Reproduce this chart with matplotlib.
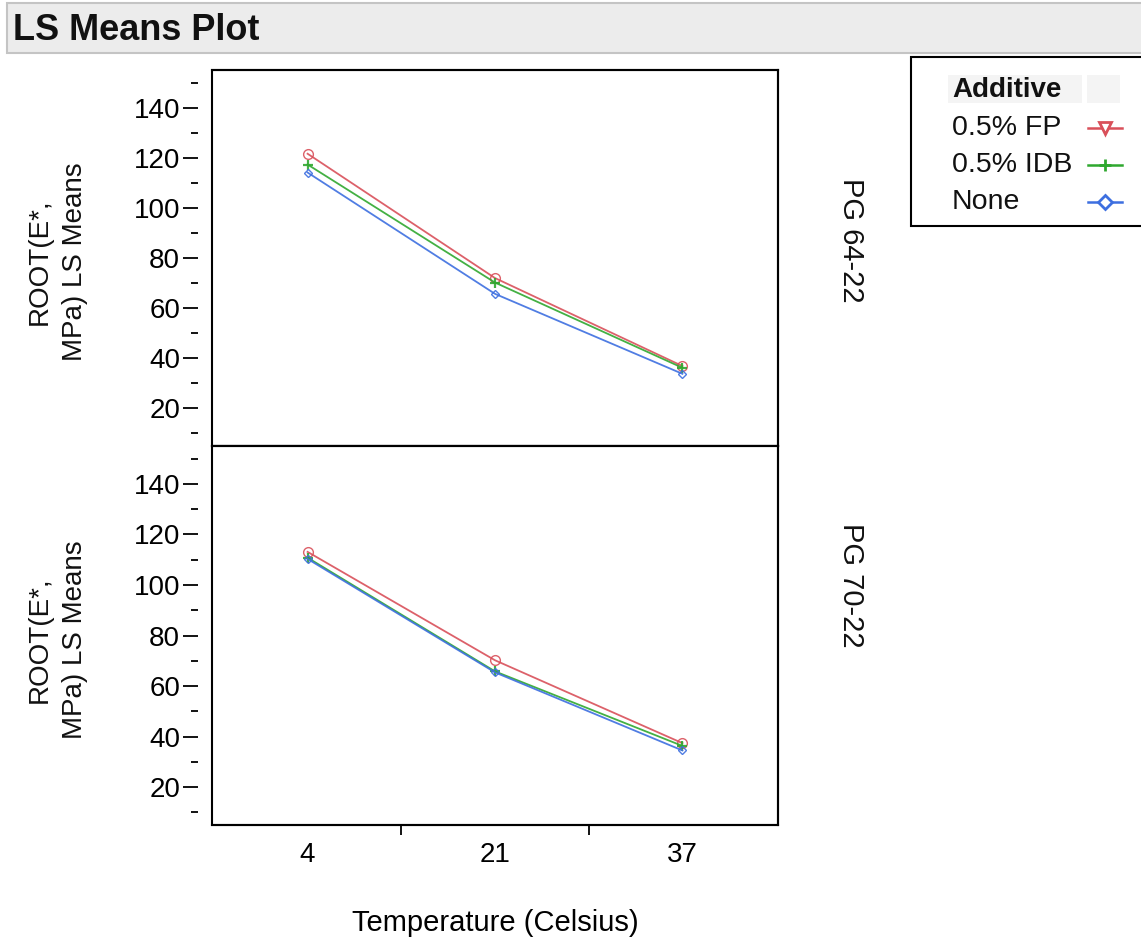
import matplotlib
matplotlib.use('Agg')
import matplotlib.pyplot as plt
from matplotlib.patches import Rectangle
from matplotlib.lines import Line2D
from matplotlib.ticker import MultipleLocator, FixedLocator

plt.rcParams['font.family'] = ['Liberation Sans', 'DejaVu Sans']
plt.rcParams['text.color'] = '#111111'

# Datos
temperaturas = ['4', '21', '37']
aditivos = ['0.5% FP', '0.5% IDB', 'None']
paneles = ['PG 64-22', 'PG 70-22']

pg64_fp = [121.6, 72.0, 36.9]
pg64_idb = [117.3, 70.2, 36.2]
pg64_none = [114.1, 65.7, 33.8]

pg70_fp = [113.1, 70.2, 37.4]
pg70_idb = [110.8, 65.8, 36.3]
pg70_none = [110.3, 65.4, 34.5]

colores = ['#d9505a', '#2fa82f', '#3d6fe0']
marcadores = ['o', '+', 'D']
marcadores_leyenda = ['v', '+', 'D']

W, H = 1141, 938
fig = plt.figure(figsize=(W / 100, H / 100), dpi=100)

# Función para pasar píxeles a coordenadas de figura
def fx(px):
    return px / W

def fy(py):
    return 1 - py / H

# Barra de título estilo JMP
fig.patches.append(Rectangle((fx(7), fy(53)), 1.0, 50 / H, transform=fig.transFigure,
                             facecolor='#ececec', edgecolor='#c4c4c4', lw=1.5))
fig.text(fx(13), fy(30), 'LS Means Plot', fontsize=26, fontweight='bold',
         va='center', ha='left')

ax1 = fig.add_axes([fx(212), fy(446), 566 / W, 376 / H])
ax2 = fig.add_axes([fx(212), fy(825), 566 / W, 379 / H])

datos = [[pg64_fp, pg64_idb, pg64_none], [pg70_fp, pg70_idb, pg70_none]]
x = list(range(len(temperaturas)))

for ax, serie in zip([ax1, ax2], datos):
    for vals, c, m, nombre in zip(serie, colores, marcadores, aditivos):
        ms = 7 if m != 'D' else 4
        ax.plot(x, vals, color=c, lw=1.3, marker=m, ms=ms, mfc='none',
                mec=c, mew=1.6 if m == '+' else 1.0, label=nombre, alpha=0.9)
    ax.set_xlim(-0.51, 2.51)
    ax.set_ylim(5, 155)
    ax.set_yticks([20, 40, 60, 80, 100, 120, 140])
    ax.yaxis.set_minor_locator(MultipleLocator(10))
    ax.tick_params(axis='y', which='major', length=11, width=1.3, labelsize=20, pad=2)
    ax.tick_params(axis='y', which='minor', length=5, width=1.3)
    # marcas separadas del eje, como en JMP
    ax.spines['left'].set_position(('outward', 10))
    ax.spines['left'].set_color('none')
    ax.add_patch(Rectangle((0, 0), 1, 1, transform=ax.transAxes, fill=False,
                           edgecolor='black', lw=1.5, clip_on=False))
    for s in ['top', 'right', 'bottom']:
        ax.spines[s].set_linewidth(1.5)

# Etiquetas del eje Y y de cada panel
for yc in [262, 640]:
    fig.text(fx(57), fy(yc), 'ROOT(E*,\nMPa) LS Means', rotation=90, fontsize=20,
             ha='center', va='center', linespacing=1.45, multialignment='center')
fig.text(fx(851), fy(240), paneles[0], rotation=-90, fontsize=21, ha='center', va='center')
fig.text(fx(851), fy(585), paneles[1], rotation=-90, fontsize=21, ha='center', va='center')

ax1.set_xticks([])
ax2.set_xticks(x)
ax2.set_xticklabels(temperaturas)
ax2.xaxis.set_minor_locator(FixedLocator([0.5, 1.5]))
ax2.tick_params(axis='x', which='major', length=0, labelsize=20, pad=12)
ax2.tick_params(axis='x', which='minor', length=7, width=1.3)
ax2.set_xlabel('Temperature (Celsius)', fontsize=21, labelpad=30)

# Leyenda dibujada a mano (estilo JMP)
fig.patches.append(Rectangle((fx(911), fy(226)), 1.0, 169 / H, transform=fig.transFigure,
                             facecolor='white', edgecolor='black', lw=1.5))
fig.patches.append(Rectangle((fx(948), fy(103)), 134 / W, 28 / H, transform=fig.transFigure,
                             facecolor='#f4f4f4', edgecolor='none'))
fig.patches.append(Rectangle((fx(1087), fy(103)), 33 / W, 28 / H, transform=fig.transFigure,
                             facecolor='#f4f4f4', edgecolor='none'))
fig.text(fx(952), fy(90), 'Additive', fontsize=20, fontweight='bold', ha='left', va='center')
for i, (nombre, c, m) in enumerate(zip(aditivos, colores, marcadores_leyenda)):
    yy = fy(128 + 37 * i)
    fig.text(fx(952), yy, nombre, fontsize=20.5, ha='left', va='center')
    fig.add_artist(Line2D([fx(1088), fx(1122)], [yy, yy], transform=fig.transFigure,
                          color=c, lw=1.8))
    fig.add_artist(Line2D([fx(1105)], [yy], transform=fig.transFigure, color=c,
                          marker=m, ms=9 if m != 'D' else 7, mfc='white', mec=c, mew=2))

fig.savefig('out.png', dpi=100)
